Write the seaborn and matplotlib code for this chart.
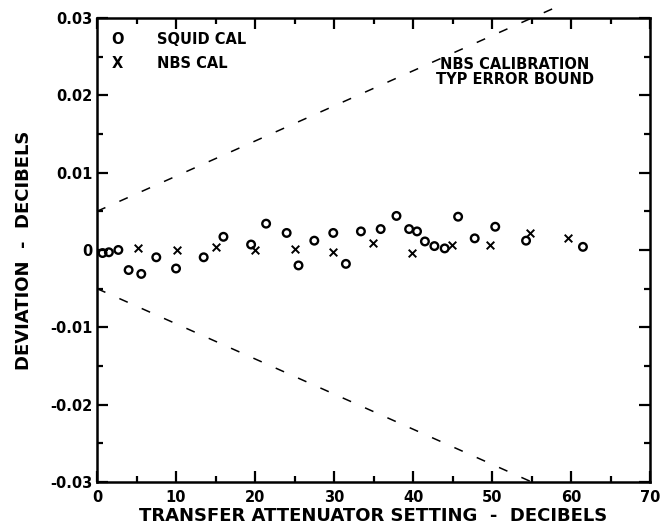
import matplotlib
matplotlib.use("Agg")
import matplotlib.pyplot as plt
import seaborn as sns
import pandas as pd
import numpy as np

# SQUID calibration points (dB setting, deviation dB)
squid_x = [0.7, 1.5, 2.7, 4.0, 5.6, 7.5, 10.0, 13.5, 16.0, 19.5, 21.4, 24.0,
           25.5, 27.5, 29.9, 31.5, 33.4, 35.9, 37.9, 39.5, 40.5, 41.5, 42.7,
           44.0, 45.7, 47.8, 50.4, 54.3, 61.5]
squid_y = [-0.0004, -0.0003, 0.0, -0.0026, -0.0031, -0.00095, -0.0024, -0.00095,
           0.0017, 0.0007, 0.0034, 0.0022, -0.002, 0.0012, 0.0022, -0.0018,
           0.0024, 0.0027, 0.0044, 0.0027, 0.0024, 0.0011, 0.0005, 0.0002,
           0.0043, 0.0015, 0.003, 0.0012, 0.0004]

# NBS calibration points
nbs_x = [5.2, 10.1, 15.0, 20.0, 25.0, 29.9, 34.9, 39.9, 44.9, 49.8, 54.75, 59.6]
nbs_y = [0.0002, 0.0, 0.00035, 0.0, 0.0001, -0.0003, 0.0009, -0.00035, 0.0006,
         0.00065, 0.0022, 0.0016]

# NBS typical error bound
bound_upper_x = [0, 59]
bound_upper_y = [0.005, 0.0318]
bound_lower_x = [0, 55]
bound_lower_y = [-0.005, -0.030]

x_ticks = [0, 10, 20, 30, 40, 50, 60, 70]
y_ticks = [0.03, 0.02, 0.01, 0.0, -0.01, -0.02, -0.03]
y_tick_labels = ["0.03", "0.02", "0.01", "0", "-0.01", "-0.02", "-0.03"]

squid = pd.DataFrame({"setting": squid_x, "deviation": squid_y})
nbs = pd.DataFrame({"setting": nbs_x, "deviation": nbs_y})

sns.set_style("ticks")
plt.rcParams["font.family"] = ["DejaVu Sans"]
plt.rcParams["font.weight"] = "bold"
for key in ["text.color", "axes.labelcolor", "xtick.color", "ytick.color",
            "axes.edgecolor"]:
    plt.rcParams[key] = "black"

fig = plt.figure(figsize=(6.6, 5.29), dpi=100)
ax = fig.add_axes([0.147, 0.089, 0.838, 0.877])

sns.scatterplot(data=squid, x="setting", y="deviation", ax=ax, marker="o",
                s=30, facecolor="none", edgecolor="black", linewidth=1.7,
                clip_on=False, zorder=3)
sns.scatterplot(data=nbs, x="setting", y="deviation", ax=ax, marker="x",
                s=30, color="black", linewidth=1.4, clip_on=False, zorder=3)

ax.plot(bound_upper_x, bound_upper_y, color="black", lw=1.1,
        dashes=(6, 10), clip_on=False)
ax.plot(bound_lower_x, bound_lower_y, color="black", lw=1.1,
        dashes=(6, 10))

ax.set_xlim(0, 70)
ax.set_ylim(-0.03, 0.03)
ax.set_xticks(x_ticks)
ax.set_xticks(np.arange(5, 70, 10), minor=True)
ax.set_yticks(y_ticks)
ax.set_yticklabels(y_tick_labels)
ax.set_yticks([0.025, 0.015, 0.005, -0.005, -0.015, -0.025], minor=True)
ax.tick_params(which="both", direction="in", top=True, right=True,
               width=1.6, labelsize=10.5)
ax.tick_params(which="major", length=8)
ax.tick_params(which="minor", length=4)
ax.tick_params(axis="x", pad=6)
for spine in ax.spines.values():
    spine.set_linewidth(1.8)

for lbl in ax.get_xticklabels() + ax.get_yticklabels():
    lbl.set_fontweight("bold")

ax.set_xlabel("TRANSFER ATTENUATOR SETTING  -  DECIBELS", fontsize=13,
              fontweight="bold", labelpad=1)
ax.set_ylabel("DEVIATION  -  DECIBELS", fontsize=13, fontweight="bold",
              labelpad=12)

# legend-like key drawn as text
ax.text(1.8, 0.0272, "O", fontsize=10.5, va="center", ha="left")
ax.text(7.6, 0.0272, "SQUID CAL", fontsize=10.5, va="center", ha="left")
ax.text(1.8, 0.0241, "X", fontsize=10.5, va="center", ha="left")
ax.text(7.6, 0.0241, "NBS CAL", fontsize=10.5, va="center", ha="left")

ax.text(52.9, 0.0230, "NBS CALIBRATION\nTYP ERROR BOUND", fontsize=10.5,
        va="center", ha="center", linespacing=0.95)

fig.savefig("out.png", dpi=100)
